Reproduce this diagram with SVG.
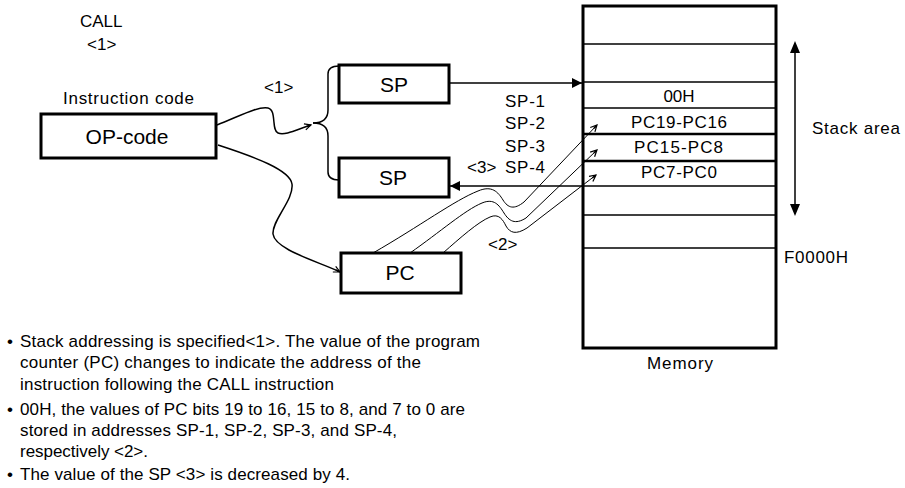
<svg xmlns="http://www.w3.org/2000/svg" width="905" height="488" viewBox="0 0 905 488">
<style>
text{font-family:"Liberation Sans",Arial,sans-serif;fill:#000}
.t{font-size:17px}
.big{font-size:21px}
.box{fill:#fff;stroke:#000;stroke-width:3}
.ln{fill:none;stroke:#000;stroke-width:1.5}
.thin{fill:none;stroke:#000;stroke-width:1}
.cell{stroke:#000;stroke-width:1.5}
.cellb{stroke:#000;stroke-width:2.5}
</style>
<defs>
<marker id="fa" viewBox="0 0 10 10" refX="10" refY="5" markerWidth="10" markerHeight="10" markerUnits="userSpaceOnUse" orient="auto">
<path d="M0,0 L10,5 L0,10 z" fill="#000"/>
</marker>
<marker id="oa" viewBox="0 0 10 10" refX="9" refY="5" markerWidth="8" markerHeight="8" markerUnits="userSpaceOnUse" orient="auto">
<path d="M1,1 L9,5 L1,9 M9,5 L3,5" fill="none" stroke="#000" stroke-width="1.5"/>
</marker>
</defs>

<g id="labels">
<text class="t" x="80" y="27">CALL</text>
<text class="t" x="87" y="50">&lt;1&gt;</text>
<text class="t" x="63" y="104" textLength="131">Instruction code</text>
<text class="t" x="264" y="93">&lt;1&gt;</text>
<text class="t" x="505" y="107" textLength="40">SP-1</text>
<text class="t" x="505" y="129" textLength="40">SP-2</text>
<text class="t" x="505" y="152" textLength="40">SP-3</text>
<text class="t" x="467" y="173">&lt;3&gt;</text>
<text class="t" x="505" y="173" textLength="40">SP-4</text>
<text class="t" x="488" y="250">&lt;2&gt;</text>
</g>

<g id="opcode">
<rect class="box" x="41" y="114" width="175" height="44"/>
<text class="big" x="127" y="144" text-anchor="middle">OP-code</text>
</g>

<g id="sp-top">
<rect class="box" x="339" y="65" width="110" height="38"/>
<text class="big" x="394" y="92" text-anchor="middle">SP</text>
</g>

<g id="sp-bottom">
<rect class="box" x="339" y="158" width="110" height="39"/>
<text class="big" x="393" y="185" text-anchor="middle">SP</text>
</g>

<g id="pc">
<rect class="box" x="341" y="253" width="120" height="40"/>
<text class="big" x="400" y="280" text-anchor="middle">PC</text>
</g>

<g id="memory">
<rect x="583" y="6" width="193" height="342" fill="#fff" stroke="#000" stroke-width="3"/>
<line class="cell" x1="583" y1="44" x2="776" y2="44"/>
<line class="cell" x1="583" y1="82" x2="776" y2="82"/>
<line class="cell" x1="583" y1="108" x2="776" y2="108"/>
<line class="cellb" x1="583" y1="134" x2="776" y2="134"/>
<line class="cellb" x1="583" y1="161" x2="776" y2="161"/>
<line class="cell" x1="583" y1="186" x2="776" y2="186"/>
<line class="cell" x1="583" y1="215" x2="776" y2="215"/>
<line class="cell" x1="583" y1="248" x2="776" y2="248"/>
<text class="t" x="679" y="102" text-anchor="middle">00H</text>
<text class="t" x="631" y="128" textLength="96">PC19-PC16</text>
<text class="t" x="634" y="153" textLength="89">PC15-PC8</text>
<text class="t" x="641" y="178" textLength="76">PC7-PC0</text>
<text class="t" x="647" y="369" textLength="66">Memory</text>
<text class="t" x="784" y="263" textLength="64">F0000H</text>
</g>

<g id="stack-area">
<line class="ln" x1="795" y1="52" x2="795" y2="205"/>
<path d="M795,41 L790,53 L800,53 z M795,216 L790,204 L800,204 z" fill="#000"/>
<text class="t" x="812" y="134" textLength="88">Stack area</text>
</g>

<g id="connectors">
<line class="ln" x1="449" y1="83" x2="582" y2="83" marker-end="url(#fa)"/>
<line class="ln" x1="583" y1="186" x2="450" y2="186" marker-end="url(#fa)"/>
<path class="ln" d="M217,125 C240,116 258,106 268,108 C277,110 271,130 278,133 C285,136 298,129 311,125" marker-end="url(#oa)"/>
<path class="ln" d="M313,123 C322,123 328,120 328,110 L328,74 C328,68 332,66 339,66"/>
<path class="ln" d="M313,123 C322,123 328,126 328,136 L328,172 C328,178 332,180 339,180"/>
<path class="ln" d="M218,145 C255,157 290,170 292,184 C294,200 272,220 273,234 C275,250 320,262 340,272" marker-end="url(#oa)"/>
<path class="thin" d="M373,253 C420,226 455,200 478,191 C492,185 498,192 503,200 C508,208 514,210 524,202 L597,125" marker-end="url(#oa)"/>
<path class="thin" d="M410,253 C440,232 465,210 482,203 C494,198 499,205 504,213 C509,221 515,225 526,218 L597,150" marker-end="url(#oa)"/>
<path class="thin" d="M443,253 C460,238 478,222 490,217 C499,213 503,220 506,226 C510,233 516,235 527,228 L596,175" marker-end="url(#oa)"/>
</g>

<g id="notes">
<text class="t" x="7" y="347">•</text>
<text class="t" x="20" y="347" textLength="460">Stack addressing is specified&lt;1&gt;. The value of the program</text>
<text class="t" x="20" y="368" textLength="401">counter (PC) changes to indicate the address of the</text>
<text class="t" x="20" y="390" textLength="314">instruction following the CALL instruction</text>
<text class="t" x="7" y="415">•</text>
<text class="t" x="20" y="415" textLength="445">00H, the values of PC bits 19 to 16, 15 to 8, and 7 to 0 are</text>
<text class="t" x="20" y="436" textLength="377">stored in addresses SP-1, SP-2, SP-3, and SP-4,</text>
<text class="t" x="20" y="457" textLength="128">respectively &lt;2&gt;.</text>
<text class="t" x="7" y="480">•</text>
<text class="t" x="20" y="480" textLength="330">The value of the SP &lt;3&gt; is decreased by 4.</text>
</g>
</svg>
